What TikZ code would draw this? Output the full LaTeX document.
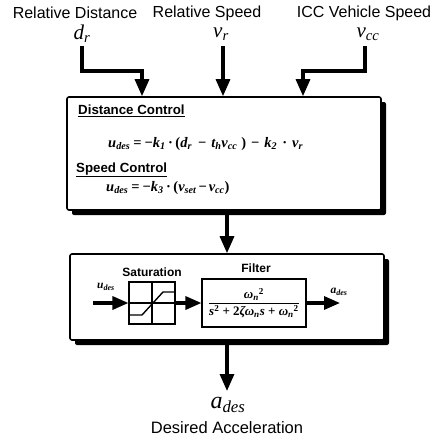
\documentclass[tikz,border=0pt]{standalone}
\usepackage{fontspec}
\setmainfont{Liberation Sans}
\newfontfamily\tms{Liberation Serif}
\newcommand\vi[1]{{\itshape #1}}
\newcommand\sbs[1]{\textsubscript{\itshape #1}}
\newcommand\sps[1]{\textsuperscript{#1}}
\newcommand\hs[1]{\hspace*{#1pt}}
\usetikzlibrary{arrows.meta,shadows}
\begin{document}
\begin{tikzpicture}[x=1pt,y=-1pt,
  arr/.style={line width=3.2pt, -{Triangle[length=17pt,width=14pt]}},
  arrs/.style={line width=3.2pt, -{Triangle[length=16pt,width=13pt]}},
  bigbox/.style={draw, line width=1.6pt, fill=white, rounded corners=2pt,
    drop shadow={shadow xshift=5pt, shadow yshift=-5pt, fill=black, opacity=1}},
  smallbox/.style={draw, line width=1.1pt, fill=white, inner sep=0pt},
  lbl/.style={font=\fontsize{16}{18}\selectfont, inner sep=0pt},
  sym/.style={font=\fontsize{21}{22}\selectfont\tms\itshape, inner sep=0pt},
  hd/.style={font=\fontsize{13.3}{15}\selectfont\bfseries, inner sep=0pt},
  sub/.style={font=\fontsize{12}{14}\selectfont\bfseries, inner sep=0pt},
  eq/.style={font=\fontsize{14.5}{17}\selectfont\tms\bfseries, inner sep=0pt},
  seq/.style={font=\fontsize{11.5}{13}\selectfont\tms\bfseries\itshape, inner sep=0pt},
  feq/.style={font=\fontsize{13}{15}\selectfont\tms\bfseries}]
\useasboundingbox (0,0) rectangle (438,440);

% input labels
\node[lbl] (t1) at (75,13) {Relative Distance};
\node[lbl] (t2) at (207,13) {Relative Speed};
\node[lbl] (t3) at (364,13) {ICC Vehicle Speed};
\node[sym] (dr) at (82,34) {d\sbs{r}};
\node[sym] (vr) at (221,34) {v\sbs{r}};
\node[sym] (vcc) at (368,34) {v\sbs{cc}};

% top box
\node[bigbox, minimum width=314pt, minimum height=113pt] (b1) at (224,153.5) {};
\node[hd, anchor=west] (dc) at (78,111) {\underline{Distance Control}};
\node[eq, anchor=west] (e1) at (108,144) {\vi{u}\sbs{des}\hs{3}=\hs{3}−\vi{k}\sbs{1}\hs{2.5}·\hs{2.5}(\vi{d}\sbs{r}\hs{6}−\hs{5}\vi{t}\sbs{h}\vi{v}\sbs{cc}\hs{4})\hs{5}−\hs{5}\vi{k}\sbs{2}\hs{5}·\hs{5}\vi{v}\sbs{r}};
\node[hd, anchor=west] (sc) at (76,170) {\underline{Speed Control}};
\node[eq, anchor=west] (e2) at (106,188) {\vi{u}\sbs{des}\hs{3}=\hs{3}−\vi{k}\sbs{3}\hs{2.5}·\hs{2.5}(\vi{v}\sbs{set}\hs{2}−\hs{2}\vi{v}\sbs{cc})};

% connectors into top box
\coordinate (d0) at (82,46);
\coordinate (d1) at (82,71);
\coordinate (d2) at (142,71);
\draw[arr] (d0) -- (d1) -- (d2) -- (d2 |- b1.north);
\coordinate (v0) at (223,46);
\draw[arr] (v0) -- (v0 |- b1.north);
\coordinate (c0) at (365,46);
\coordinate (c1) at (365,71);
\coordinate (c2) at (303,71);
\draw[arr] (c0) -- (c1) -- (c2) -- (c2 |- b1.north);

% bottom box
\node[bigbox, minimum width=314pt, minimum height=86pt] (b2) at (227,297) {};
\draw[arr] (b2.north |- b1.south) -- (b2.north);

% saturation
\node[sub] (satl) at (152,272) {Saturation};
\node[smallbox, minimum width=46pt, minimum height=42pt] (sat) at (152,303) {};
\draw[line width=1.1pt] (sat.north) -- (sat.south);
\draw[line width=1.1pt] (sat.west) -- (sat.east);
\draw[line width=1.4pt] (130,315) -- (142,315) -- (163,292) -- (175,292);

% filter
\node[sub] (fl) at (256,268) {Filter};
\node[smallbox, feq, minimum width=104pt, minimum height=48pt] (filt) at (254,303) {$\displaystyle\frac{\hbox{\vi{ω}\sbs{n}\sps{2}}}{\hbox{\vi{s}\sps{2} + 2\vi{ζω}\sbs{n}\vi{s} + \vi{ω}\sbs{n}\sps{2}}}$};

\coordinate (in0) at (93,303);
\node[seq] (ul) at (106,287) {u\sbs{des}};
\draw[arrs] (in0) -- (sat.west);
\draw[arrs] (sat.east) -- (filt.west);
\coordinate (out0) at (340,303);
\node[seq] (al) at (339,292) {a\sbs{des}};
\draw[arrs] (filt.east) -- (out0);

% output
\coordinate (o1) at (227,391);
\node[font=\fontsize{24}{26}\selectfont\tms\itshape, inner sep=0pt] (ad) at (228,405) {a\sbs{des}};
\node[lbl, font=\fontsize{16.5}{18}\selectfont] (da) at (227,428) {Desired Acceleration};
\draw[arr] (b2.south) -- (o1);
\end{tikzpicture}
\end{document}
